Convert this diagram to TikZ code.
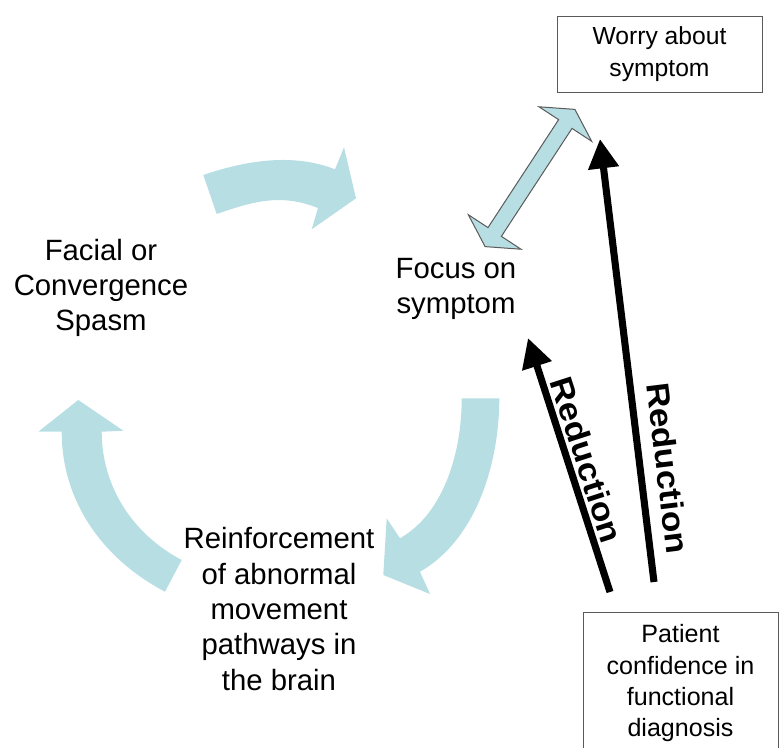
\documentclass[tikz,border=0pt]{standalone}
\usepackage{fontspec}
\setmainfont{Liberation Sans}
\usetikzlibrary{arrows.meta}
\definecolor{cyclefill}{RGB}{183,222,227}
\definecolor{boxline}{RGB}{90,90,90}
\begin{document}
\begin{tikzpicture}[x=0.75pt, y=-0.75pt,
      stage/.style       = {align=center, inner sep=0pt, font=\fontsize{22}{26.5}\selectfont},
      textbox/.style     = {draw=boxline, line width=0.75pt, align=center, inner sep=0pt},
      cycle arrow/.style = {fill=cyclefill, draw=none},
      reduce/.style      = {line width=5.3pt, -{Triangle[length=22pt,width=22pt]}},
      reducetext/.style  = {font=\fontsize{24}{26}\selectfont\bfseries, inner sep=0pt, xscale=1.1},  ]

    \useasboundingbox (0,0) rectangle (779,747);

    % the three curved arrows of the cycle
    \fill[cycle arrow] (203.3,175) .. controls (245.9,160.4) and (293.1,152.8) .. (335,169.3)
         -- (344,147.3) -- (356,198.3) -- (311.7,229.3) -- (318,208)
         .. controls (280.8,193.4) and (254.5,201) .. (216.7,214) -- cycle;
    \fill[cycle arrow] (499.3,398.3) .. controls (499.3,463.3) and (476.4,539.4) .. (420,571.7)
         -- (430,594) -- (383.3,575) -- (386.7,518.3) -- (400,538.3)
         .. controls (445.1,512.5) and (461.7,450.3) .. (461.7,398.3) -- cycle;
    \fill[cycle arrow] (165,591.7) .. controls (103,559.1) and (61.7,501.7) .. (61.7,431.7)
         -- (38.3,431.7) -- (78.3,400) -- (123.3,430.7) -- (101.7,431.7)
         .. controls (101.7,486.7) and (133,534.4) .. (181.7,560) -- cycle;

    \node[stage] (facial) at (101,288)   {Facial or\\Convergence\\Spasm};
    \node[stage] (focus)  at (456,289)   {Focus on\\symptom};
    \node[stage] (reinf)  at (279,609)   {Reinforcement\\of abnormal\\movement\\pathways in\\the brain};

    \node[textbox, minimum width=153.75pt, minimum height=57pt,
          font=\fontsize{18.5}{23.5}\selectfont] (worry) at (659.5,54) {Worry about\\symptom};
    \node[textbox, minimum width=146.25pt, minimum height=107.25pt,
          font=\fontsize{18.8}{23.5}\selectfont] (patient) at (680.5,683.5)
          {Patient\\confidence in\\functional\\diagnosis};

    % double arrow between focus and worry
    \begin{scope}[shift={(530,178)}, rotate=56.8]
      \filldraw[fill=cyclefill, draw=boxline, line width=0.75pt]
         (82,0) -- (64.5,31.5) -- (64.5,8) -- (-64.5,8) -- (-64.5,31.5) -- (-82,0)
         -- (-64.5,-31.5) -- (-64.5,-8) -- (64.5,-8) -- (64.5,-31.5) -- cycle;
    \end{scope}

    \coordinate (patient-l) at (610,592);
    \coordinate (patient-r) at (654,582);
    \coordinate (focus-in)  at (528,338);
    \coordinate (worry-in)  at (600,139);

    \draw[reduce] (patient-l) -- (focus-in);
    \draw[reduce] (patient-r) -- (worry-in);
    \node[rotate=-72.1, reducetext] (red-focus) at (587,460) {Reduction};
    \node[rotate=-83,   reducetext] (red-worry) at (668,468) {Reduction};

\end{tikzpicture}
\end{document}
